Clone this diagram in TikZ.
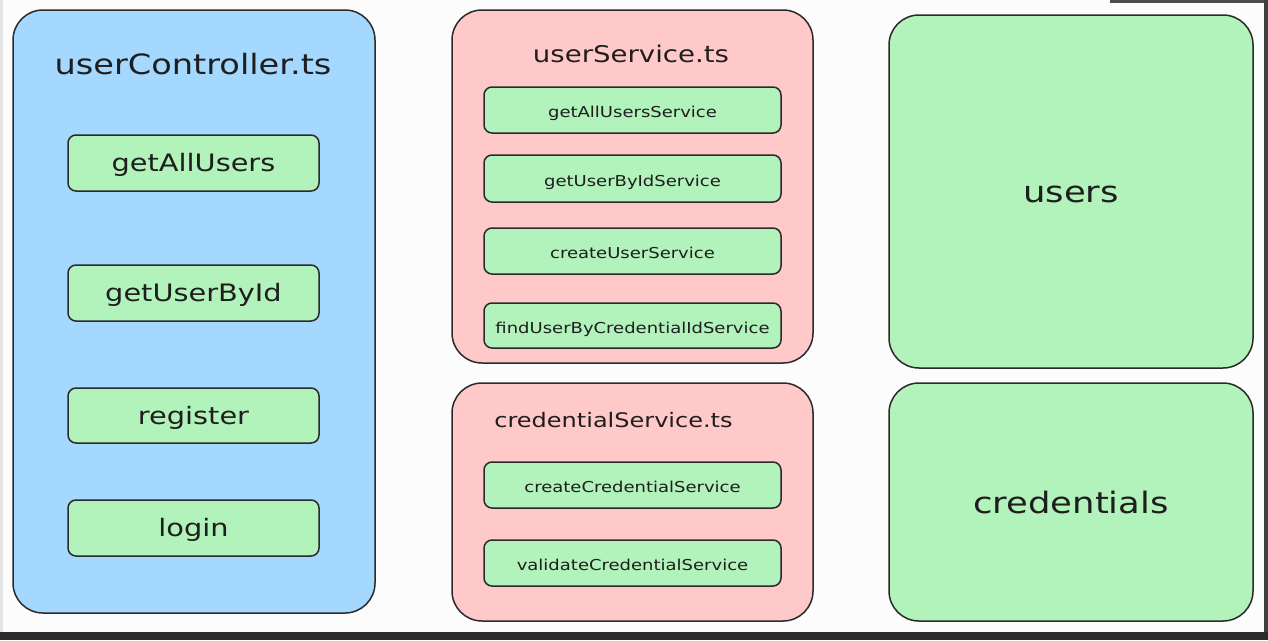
\documentclass[tikz,border=0pt]{standalone}
\usepackage{fontspec}
\newfontfamily\hand[FakeStretch=1.2]{DejaVu Sans}
\definecolor{edge}{HTML}{2A2A2A}
\definecolor{ink}{HTML}{1E1E1E}
\definecolor{bluef}{HTML}{A5D8FF}
\definecolor{pinkf}{HTML}{FFC9C9}
\definecolor{greenf}{HTML}{B2F2BB}
\definecolor{bg}{HTML}{FCFCFC}
\definecolor{bar}{HTML}{2B2B2B}
\tikzset{
  container/.style={draw=edge, line width=1.5pt, rounded corners=30pt, inner sep=0pt, outer sep=0pt, text=ink},
  subbox/.style={draw=edge, fill=greenf, line width=1.5pt, rounded corners=8pt, inner sep=0pt, outer sep=0pt, text=ink, font=\hand},
  ctrlsub/.style={subbox, minimum width=251pt, text height=17pt, text depth=0pt, font=\hand\fontsize{24}{28}\selectfont},
  svcsub/.style={subbox, minimum width=297pt, text height=15pt, text depth=0pt, font=\hand\fontsize{15}{18}\selectfont},
  title/.style={anchor=base, inner sep=0pt, text=ink},
  bigtext/.style={text height=22pt, text depth=0pt, font=\hand\fontsize{29.5}{34}\selectfont},
}
\begin{document}
\begin{tikzpicture}[x=1pt, y=-1pt]
\useasboundingbox (0,0) rectangle (1268,640);
\fill[bg] (0,0) rectangle (1268,640);
\fill[black!10] (0,0) rectangle (3,632);
\fill[bar] (0,632) rectangle (1268,640);
\fill[black!70] (1110,0) rectangle (1268,3);
\fill[black!75] (1264,0) rectangle (1268,632);

% containers
\node[container, fill=bluef, minimum width=362pt, minimum height=603pt] (ctrl) at (194,311.5) {};
\node[container, fill=pinkf, minimum width=361pt, minimum height=353pt] (usvc) at (632.5,186.5) {};
\node[container, fill=pinkf, minimum width=361pt, minimum height=238pt] (csvc) at (632.5,502) {};
\node[container, fill=greenf, minimum width=364pt, minimum height=353pt, bigtext] (users) at (1071,191.5) {users};
\node[container, fill=greenf, minimum width=364pt, minimum height=238pt, bigtext] (creds) at (1071,502) {credentials};

% titles
\node[title, font=\hand\fontsize{28}{32}\selectfont] (ctrlt) at (193,74) {userController.ts};
\node[title, font=\hand\fontsize{23}{27}\selectfont] (usvct) at (631,62) {userService.ts};
\node[title, font=\hand\fontsize{20}{24}\selectfont] (csvct) at (613.5,427) {credentialService.ts};

% controller functions
\node[ctrlsub, minimum height=56pt] (gau) at (193.5,163) {getAllUsers};
\node[ctrlsub, minimum height=56pt] (gubi) at (193.5,293) {getUserById};
\node[ctrlsub, minimum height=55pt] (reg) at (193.5,415.5) {register};
\node[ctrlsub, minimum height=56pt] (login) at (193.5,528) {login};

% user service functions
\node[svcsub, minimum height=46pt] (gaus) at (632.5,110) {getAllUsersService};
\node[svcsub, minimum height=47pt] (gubis) at (632.5,178.5) {getUserByIdService};
\node[svcsub, minimum height=46pt] (cus) at (632.5,251) {createUserService};
\node[svcsub, minimum height=45pt] (fubc) at (632.5,325.5) {findUserByCredentialIdService};

% credential service functions
\node[svcsub, minimum height=46pt] (ccs) at (632.5,485) {createCredentialService};
\node[svcsub, minimum height=46pt] (vcs) at (632.5,563) {validateCredentialService};
\end{tikzpicture}
\end{document}
